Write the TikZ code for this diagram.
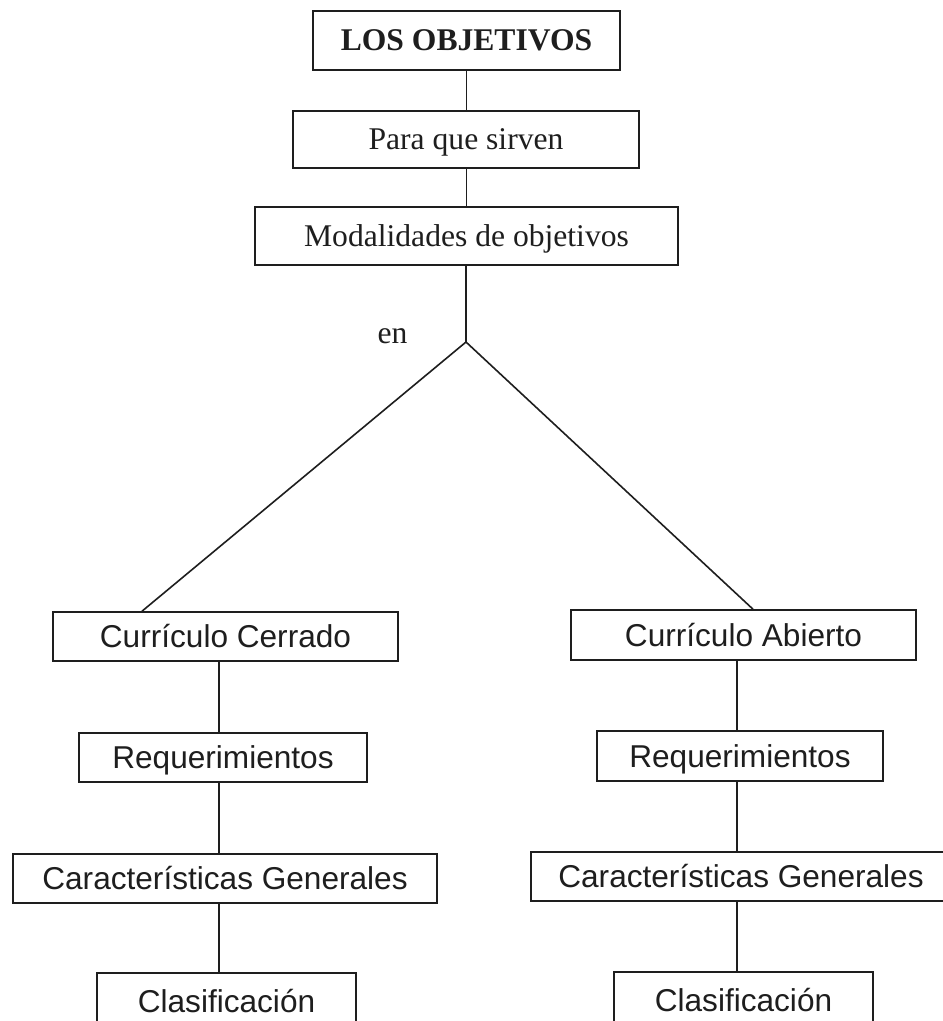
\documentclass[tikz,border=0pt]{standalone}
\usepackage{fontspec}
\setmainfont{Liberation Serif}
\newfontfamily\arialf{Liberation Sans}
\definecolor{ink}{HTML}{1E1E1E}
\begin{document}
\begin{tikzpicture}[x=1pt,y=-1pt,
  base/.style={draw=ink, text=ink, line width=1.6pt, inner sep=0pt, text depth=0pt},
  serifbox/.style={base, font=\fontsize{31.6}{36}\selectfont, text height=20.9pt},
  sansbox/.style={base, font=\arialf\fontsize{31.6}{36}\selectfont, text height=22.6pt},
  conn/.style={draw=ink, line width=1.6pt}]
\useasboundingbox (0,0) rectangle (943,1021);
\fill[white] (0,0) rectangle (943,1021);

\node[serifbox, font=\bfseries\fontsize{31.6}{36}\selectfont, minimum width=307pt, minimum height=59pt] (top) at (466.5,40.5) {LOS OBJETIVOS};
\node[serifbox, minimum width=346pt, minimum height=57pt] (para) at (466,139.5) {Para que sirven};
\node[serifbox, minimum width=423pt, minimum height=58pt] (mod) at (466.5,236) {Modalidades de objetivos};
\coordinate (apex) at (466,342);
\node[text=ink, font=\fontsize{31.6}{36}\selectfont, inner sep=0pt, anchor=base] (en) at (392.5,343) {en};

\node[sansbox, minimum width=345pt, minimum height=49pt] (cer) at (225.5,636.5) {Currículo Cerrado};
\node[sansbox, minimum width=345pt, minimum height=50pt] (abi) at (743.5,635) {Currículo Abierto};
\node[sansbox, minimum width=288pt, minimum height=49pt] (reqL) at (223,757.5) {Requerimientos};
\node[sansbox, minimum width=286pt, minimum height=50pt] (reqR) at (740,756) {Requerimientos};
\node[sansbox, minimum width=424pt, minimum height=49pt] (carL) at (225,878.5) {Características Generales};
\node[sansbox, minimum width=420pt, minimum height=49pt] (carR) at (741,876.5) {Características Generales};
\node[sansbox, minimum width=259pt, minimum height=56pt] (clasL) at (226.5,1001) {Clasificación};
\node[sansbox, minimum width=259pt, minimum height=56pt] (clasR) at (743.5,1000) {Clasificación};

\coordinate (colM) at (466.5,0);
\coordinate (colL) at (219,0);
\coordinate (colR) at (737,0);
\coordinate (dL) at (142,0);
\coordinate (dR) at (753,0);

\draw[conn] (top.south -| colM) -- (para.north -| colM);
\draw[conn] (para.south -| colM) -- (mod.north -| colM);
\draw[conn] (mod.south -| apex) -- (apex);
\draw[conn] (apex) -- (cer.north -| dL);
\draw[conn] (apex) -- (abi.north -| dR);

\draw[conn] (cer.south -| colL) -- (reqL.north -| colL);
\draw[conn] (reqL.south -| colL) -- (carL.north -| colL);
\draw[conn] (carL.south -| colL) -- (clasL.north -| colL);

\draw[conn] (abi.south -| colR) -- (reqR.north -| colR);
\draw[conn] (reqR.south -| colR) -- (carR.north -| colR);
\draw[conn] (carR.south -| colR) -- (clasR.north -| colR);
\end{tikzpicture}
\end{document}
